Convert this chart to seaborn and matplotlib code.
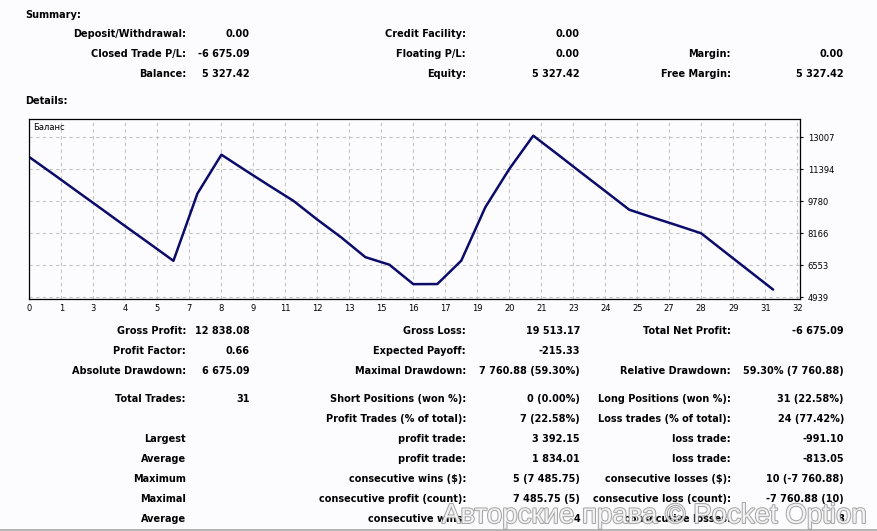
import matplotlib
matplotlib.use("Agg")
import matplotlib.pyplot as plt
import matplotlib.patheffects as pe
from matplotlib.lines import Line2D
import seaborn as sns
import pandas as pd

# ---------------- data ----------------
trade_no = list(range(32))
balance = [12002.51, 11142.51, 10267.51, 9397.51, 8517.51, 7652.51, 6777.70,
           10169.85, 12130.03, 11340.03, 10565.03, 9805.03, 8855.03, 7955.03,
           6963.93, 6583.93, 5602.55, 5606.75, 6786.75, 9476.75, 11406.75,
           13088.30, 12163.30, 11223.30, 10293.30, 9355.80, 8955.80, 8565.80,
           8165.80, 7215.80, 6270.80, 5327.42]
y_ticks = [4939, 6553, 8166, 9780, 11394, 13007]
x_tick_labels = ["0", "1", "3", "4", "5", "7", "8", "9", "11", "12", "13", "15", "16",
                 "17", "19", "20", "21", "23", "24", "25", "27", "28", "29", "31", "32"]

summary_rows = [
    [("Deposit/Withdrawal:", "0.00"), ("Credit Facility:", "0.00"), ("", "")],
    [("Closed Trade P/L:", "-6 675.09"), ("Floating P/L:", "0.00"), ("Margin:", "0.00")],
    [("Balance:", "5 327.42"), ("Equity:", "5 327.42"), ("Free Margin:", "5 327.42")],
]
details_rows = [
    [("Gross Profit:", "12 838.08"), ("Gross Loss:", "19 513.17"), ("Total Net Profit:", "-6 675.09")],
    [("Profit Factor:", "0.66"), ("Expected Payoff:", "-215.33"), ("", "")],
    [("Absolute Drawdown:", "6 675.09"), ("Maximal Drawdown:", "7 760.88 (59.30%)"), ("Relative Drawdown:", "59.30% (7 760.88)")],
    [("Total Trades:", "31"), ("Short Positions (won %):", "0 (0.00%)"), ("Long Positions (won %):", "31 (22.58%)")],
    [("", ""), ("Profit Trades (% of total):", "7 (22.58%)"), ("Loss trades (% of total):", "24 (77.42%)")],
    [("Largest", ""), ("profit trade:", "3 392.15"), ("loss trade:", "-991.10")],
    [("Average", ""), ("profit trade:", "1 834.01"), ("loss trade:", "-813.05")],
    [("Maximum", ""), ("consecutive wins ($):", "5 (7 485.75)"), ("consecutive losses ($):", "10 (-7 760.88)")],
    [("Maximal", ""), ("consecutive profit (count):", "7 485.75 (5)"), ("consecutive loss (count):", "-7 760.88 (10)")],
    [("Average", ""), ("consecutive wins:", "4"), ("consecutive losses:", "8")],
]

# ---------------- style ----------------
sns.set_theme(style="white")
plt.rcParams["font.family"] = ["DejaVu Sans"]

W, H = 878, 531
BG = "#FCFCFE"
fig = plt.figure(figsize=(W / 100, H / 100), dpi=100, facecolor=BG)


def fx(x):
    return x / W


def fy(y):
    return 1 - y / H


BOLD = dict(fontsize=7.0, fontweight="bold", color="black", va="center")

fig.text(fx(25), fy(15), "Summary:", ha="left", **BOLD)
fig.text(fx(25), fy(101), "Details:", ha="left", **BOLD)

label_right = [186, 466, 731]
value_right = [250, 580, 844]

for r, row in enumerate(summary_rows):
    yc = [34, 54, 74][r]
    for c, (lab, val) in enumerate(row):
        if lab:
            fig.text(fx(label_right[c]), fy(yc), lab, ha="right", **BOLD)
        if val:
            fig.text(fx(value_right[c]), fy(yc), val, ha="right", **BOLD)

detail_y = [331, 351, 371, 399, 419, 439, 459, 479, 499, 519]
for r, row in enumerate(details_rows):
    yc = detail_y[r]
    for c, (lab, val) in enumerate(row):
        if lab:
            fig.text(fx(label_right[c]), fy(yc), lab, ha="right", **BOLD)
        if val:
            fig.text(fx(value_right[c]), fy(yc), val, ha="right", **BOLD)

# ---------------- chart ----------------
ax_l, ax_r, ax_t, ax_b = 29.5, 800.0, 119.3, 298.5
ax = fig.add_axes([fx(ax_l), fy(ax_b), fx(ax_r - ax_l), (ax_b - ax_t) / H])
ax.set_facecolor(BG)

df = pd.DataFrame({"trade": trade_no, "balance": balance})
sns.lineplot(data=df, x="trade", y="balance", ax=ax, color="#0b0b6a", linewidth=1.8)

n_lab = len(x_tick_labels)
xmax = 32.0
x_pos = [i * xmax / (n_lab - 1) for i in range(n_lab)]
ax.set_xlim(0, 32.12)
ax.set_ylim(4878, 13915)
ax.set_xticks(x_pos)
ax.set_xticklabels(x_tick_labels)
ax.set_yticks(y_ticks)
ax.set_yticklabels([str(v) for v in y_ticks])
ax.yaxis.tick_right()
ax.tick_params(axis="both", which="both", labelsize=6.0, colors="black",
               length=2.5, width=0.8, pad=1.5, direction="out")
ax.tick_params(axis="y", pad=3)
ax.grid(True, color="#c4c4c4", linestyle=(0, (3, 3)), linewidth=0.8)
ax.set_xlabel("")
ax.set_ylabel("")
for s in ax.spines.values():
    s.set_color("black")
    s.set_linewidth(0.9)
ax.text(0.005, 0.955, "Баланс", transform=ax.transAxes, fontsize=6.0,
        ha="left", va="center", color="black")

# bottom border line
fig.add_artist(Line2D([0, 1], [fy(529.5), fy(529.5)], transform=fig.transFigure,
                      color="#a8a8a8", linewidth=1.2))

# watermark
wm = fig.text(fx(442), fy(516), "Авторские права © Pocket Option", fontsize=19.9,
              ha="left", va="center", color="white", alpha=0.8,
              family=["Liberation Sans", "DejaVu Sans"])
wm.set_path_effects([pe.withStroke(linewidth=1.4, foreground="#909090")])

fig.savefig("out.png", dpi=100, facecolor=BG)
